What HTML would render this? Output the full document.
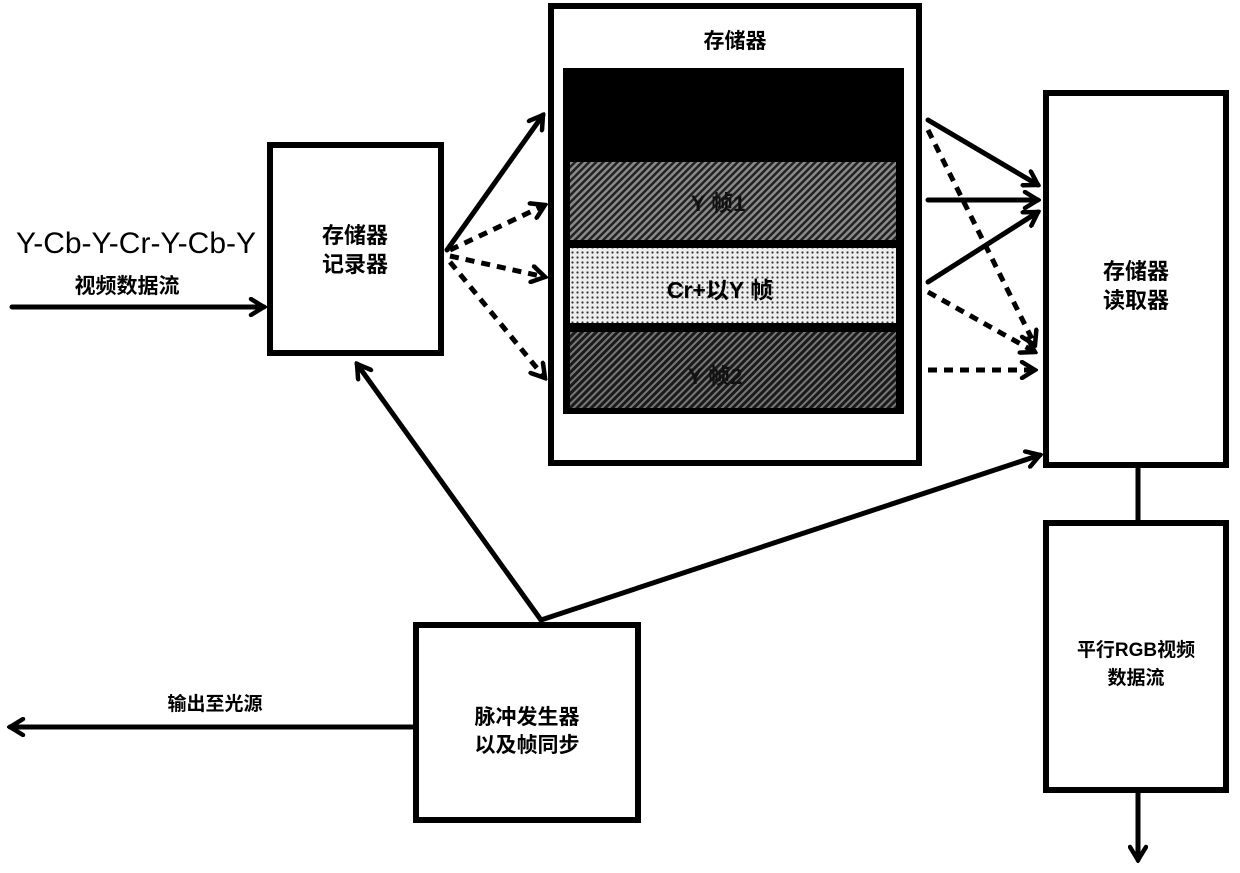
<!DOCTYPE html>
<html><head><meta charset="utf-8"><style>
html,body{margin:0;padding:0;background:#fff}
svg{display:block}
text{font-family:"Liberation Sans","Noto Sans CJK SC",sans-serif;font-weight:bold;fill:#000}
</style></head><body>
<svg width="1240" height="873" viewBox="0 0 1240 873" xmlns="http://www.w3.org/2000/svg">
<defs>
<pattern id="hatch" width="5" height="5" patternUnits="userSpaceOnUse" patternTransform="rotate(45)">
<rect width="5" height="5" fill="#8a8a8a"/><rect width="2.5" height="5" fill="#222"/></pattern>
<pattern id="hatch2" width="5" height="5" patternUnits="userSpaceOnUse" patternTransform="rotate(45)">
<rect width="5" height="5" fill="#777"/><rect width="3" height="5" fill="#1a1a1a"/></pattern>
<pattern id="dots" width="5" height="5" patternUnits="userSpaceOnUse">
<rect width="5" height="5" fill="#eee"/><circle cx="2.5" cy="2.5" r="1.1" fill="#333"/></pattern>
<marker id="ahb" markerWidth="20" markerHeight="20" refX="17" refY="10" orient="auto" markerUnits="userSpaceOnUse" viewBox="0 0 20 20">
<path d="M4,2 L17,10 L4,18" fill="none" stroke="#000" stroke-width="4.5" stroke-linecap="round"/></marker>
</defs>
<g fill="none" stroke="#000" stroke-width="6">
<rect x="270" y="145" width="171" height="208"/>
<rect x="551" y="6" width="368" height="457"/>
<rect x="1046" y="93" width="180" height="372"/>
<rect x="1046" y="523" width="180" height="267"/>
<rect x="416" y="625" width="222" height="195"/>
</g>
<rect x="563" y="68" width="341" height="346" fill="#000"/>
<rect x="570" y="162" width="326" height="78" fill="url(#hatch)"/>
<rect x="570" y="248" width="326" height="75" fill="url(#dots)"/>
<rect x="570" y="332" width="326" height="76" fill="url(#hatch2)"/>
<text x="735" y="48" font-size="21" text-anchor="middle">存储器</text>
<text x="718" y="211" font-size="22" text-anchor="middle" style="fill:#111">Y 帧1</text>
<text x="720" y="298" font-size="23" text-anchor="middle">Cr+以Y 帧</text>
<text x="715" y="384" font-size="22" text-anchor="middle" style="fill:#111">Y 帧2</text>
<text x="355" y="243" font-size="22" text-anchor="middle">存储器</text>
<text x="355" y="272" font-size="22" text-anchor="middle">记录器</text>
<text x="1136" y="279" font-size="22" text-anchor="middle">存储器</text>
<text x="1136" y="308" font-size="22" text-anchor="middle">读取器</text>
<text x="1136" y="656" font-size="19" text-anchor="middle">平行RGB视频</text>
<text x="1136" y="684" font-size="19" text-anchor="middle">数据流</text>
<text x="527" y="724" font-size="21" text-anchor="middle">脉冲发生器</text>
<text x="527" y="752" font-size="21" text-anchor="middle">以及帧同步</text>
<text x="136" y="253" font-size="30" text-anchor="middle" style="font-weight:normal">Y-Cb-Y-Cr-Y-Cb-Y</text>
<text x="127" y="293" font-size="21" text-anchor="middle">视频数据流</text>
<text x="215" y="710" font-size="19" text-anchor="middle">输出至光源</text>
<g stroke="#000" stroke-width="5" stroke-linecap="round" fill="none" marker-end="url(#ahb)">
<line x1="12" y1="307" x2="264" y2="307"/>
<line x1="412" y1="727" x2="10" y2="727"/>
<line x1="1138" y1="792" x2="1138" y2="860"/>
<line x1="541" y1="620" x2="357" y2="364"/>
<line x1="541" y1="620" x2="1040" y2="455"/>
<line x1="447" y1="250" x2="543" y2="115"/>
<line x1="928" y1="120" x2="1038" y2="185"/>
<line x1="928" y1="200" x2="1038" y2="200"/>
<line x1="928" y1="282" x2="1038" y2="212"/>
</g>
<g stroke="#000" stroke-width="5" stroke-dasharray="9,7" fill="none" marker-end="url(#ahb)">
<line x1="450" y1="250" x2="545" y2="205"/>
<line x1="450" y1="256" x2="545" y2="277"/>
<line x1="450" y1="262" x2="545" y2="378"/>
<line x1="928" y1="130" x2="1035" y2="345"/>
<line x1="928" y1="292" x2="1035" y2="352"/>
<line x1="928" y1="370" x2="1035" y2="370"/>
</g>
<line x1="1138" y1="467" x2="1138" y2="522" stroke="#000" stroke-width="5"/>
</svg>
</body></html>
